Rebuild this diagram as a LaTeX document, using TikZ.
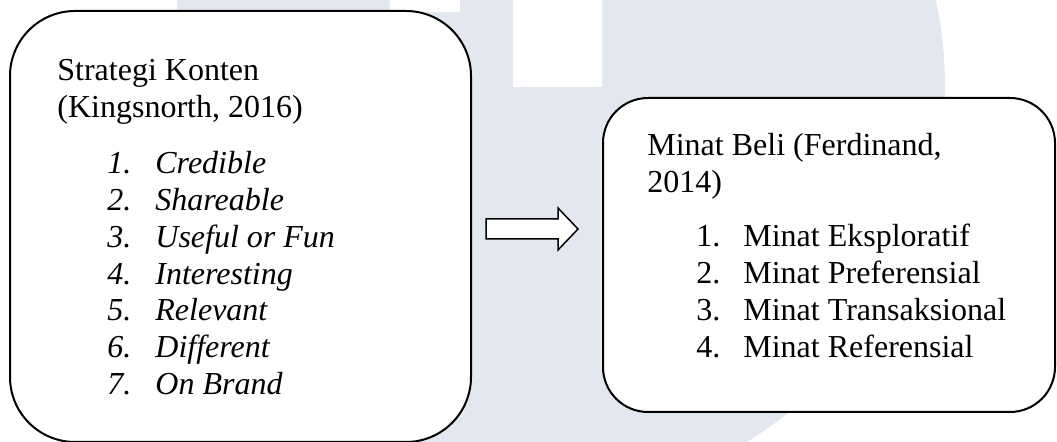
\documentclass[tikz,border=0pt]{standalone}
\usepackage{fontspec}
\setmainfont{Liberation Serif}
\definecolor{wmark}{RGB}{227,231,240}
\begin{document}
\begin{tikzpicture}[x=0.5pt,y=-0.5pt,
  panel/.style={draw=black, line width=1pt, fill=white, rectangle, inner sep=0pt},
  txt/.style={anchor=base west, inner sep=0pt, font=\fontsize{16}{18.5}\selectfont},
  itxt/.style={anchor=base west, inner sep=0pt, font=\fontsize{16}{18.5}\selectfont\itshape},
  blockarrow/.style={draw=black, fill=white, line width=0.75pt, line join=miter}]
\useasboundingbox (0,0) rectangle (1057,442);

% faint background emblem
\begin{scope}
  \clip (0,0) rectangle (1057,442);
  \fill[wmark] (528,87) circle[radius=417];
  \fill[white] (513,-2) rectangle (602,87);
  \fill[white] (390,-2) rectangle (460,12);
  \fill[white] (-2,-2) rectangle (177,12);
\end{scope}

% the two concept panels
\node[panel, minimum width=230.5pt, minimum height=215.5pt, rounded corners=32.5pt]
  (konten) at (240.5,226.5) {};
\node[panel, minimum width=226pt, minimum height=157pt, rounded corners=22.5pt]
  (minat) at (829,255) {};

% hollow block arrow between the panels
\coordinate (ekor) at (486,229);
\coordinate (ujung) at (578,229);
\draw[blockarrow] (ekor) ++(0,-10) -- ++(72,0) -- ++(0,-11) -- (ujung)
  -- ++(-20,21) -- ++(0,-11) -- ++(-72,0) -- cycle;

% left panel text
\node[txt] (kjudul) at (57,81) {Strategi Konten};
\node[txt] (ksumber) at (57,118) {(Kingsnorth, 2016)};
\foreach \t [count=\i] in {Credible, Shareable, Useful or Fun, Interesting, Relevant, Different, On Brand} {
  \node[itxt] (knum\i) at (107,{174+36.67*(\i-1)}) {\i.};
  \node[itxt] (kitem\i) at (155,{174+36.67*(\i-1)}) {\t};
}

% right panel text
\node[txt] (mjudul) at (647,156) {Minat Beli (Ferdinand,};
\node[txt] (msumber) at (647,193) {2014)};
\foreach \t [count=\i] in {Minat Eksploratif, Minat Preferensial, Minat Transaksional, Minat Referensial} {
  \node[txt] (mnum\i) at (696,{247+37*(\i-1)}) {\i.};
  \node[txt] (mitem\i) at (743,{247+37*(\i-1)}) {\t};
}
\end{tikzpicture}
\end{document}
